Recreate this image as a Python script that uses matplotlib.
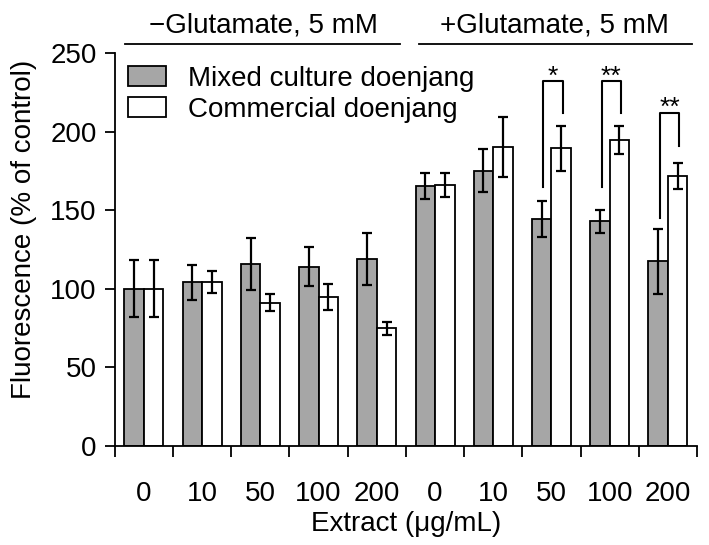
import numpy as np
import matplotlib
matplotlib.use('Agg')
from matplotlib import pyplot as plt

plt.rcParams['font.family'] = ['Liberation Sans', 'DejaVu Sans']
plt.rcParams['font.size'] = 20

# data
doses = ['0', '10', '50', '100', '200', '0', '10', '50', '100', '200']
mixed = [100, 104, 115.6, 114.1, 119, 165.4, 175.1, 144.2, 142.9, 117.5]
mixed_err = [18, 11, 16.5, 12.5, 16.3, 8.5, 13.6, 11.4, 7.4, 20.8]
commercial = [100, 104, 91.2, 95, 74.8, 166.2, 190, 189.4, 194.5, 171.8]
commercial_err = [18, 7, 5.5, 8.3, 3.9, 7.7, 19, 14.4, 8.9, 8.4]

# significance brackets: group, left leg bottom, right leg bottom, top, label
sig_groups = [7, 8, 9]
sig_left = [165, 165, 145]
sig_right = [212, 212, 191]
sig_top = [232, 232, 212]
sig_labels = ['*', '**', '**']

fig = plt.figure(figsize=(7.09, 5.45), dpi=100)
ax = fig.add_axes([0.162, 0.1817, 0.821, 0.7211])

x = np.arange(len(doses))
w = 0.335
ax.bar(x - w / 2, mixed, w, color='#a6a6a6', edgecolor='black', linewidth=1.3,
       label='Mixed culture doenjang', zorder=2)
ax.bar(x + w / 2, commercial, w, color='white', edgecolor='black', linewidth=1.3,
       label='Commercial doenjang', zorder=2)
ax.errorbar(x - w / 2, mixed, yerr=mixed_err, fmt='none', ecolor='black',
            elinewidth=1.6, capsize=3.3, capthick=1.6, zorder=3)
ax.errorbar(x + w / 2, commercial, yerr=commercial_err, fmt='none', ecolor='black',
            elinewidth=1.6, capsize=3.3, capthick=1.6, zorder=3)

# brackets
for g, yl, yr, yt, lab in zip(sig_groups, sig_left, sig_right, sig_top, sig_labels):
    xl = g - w / 2 + 0.03
    xr = g + w / 2 + 0.03
    ax.plot([xl, xl, xr, xr], [yl, yt, yt, yr], color='black', lw=1.5,
            clip_on=False, zorder=4)
    ax.text((xl + xr) / 2, yt + 3, lab, ha='center', va='center', fontsize=19)

# treatment group headers
ax.plot([-0.33, 4.40], [256, 256], color='black', lw=1.3, clip_on=False)
ax.plot([4.72, 9.41], [256, 256], color='black', lw=1.3, clip_on=False)
ax.text(2.06, 259.5, '\u2212Glutamate, 5 mM', ha='center', va='bottom')
ax.text(7.05, 259.5, '+Glutamate, 5 mM', ha='center', va='bottom')

ax.set_xlim(-0.5, 9.5)
ax.set_ylim(0, 250)
ax.set_yticks([0, 50, 100, 150, 200, 250])
ax.set_xticks(x)
ax.set_xticklabels(doses)
ax.set_xticks(np.arange(-0.5, 10, 1), minor=True)
ax.tick_params(axis='x', which='major', length=0, pad=25)
ax.tick_params(axis='x', which='minor', length=8, width=1.3, direction='out')
ax.tick_params(axis='y', length=7, width=1.3, direction='out', pad=6)

for s in ['top', 'right']:
    ax.spines[s].set_visible(False)
for s in ['left', 'bottom']:
    ax.spines[s].set_linewidth(1.3)

ax.set_ylabel('Fluorescence (% of control)')
ax.yaxis.set_label_coords(-0.134, 0.55)
ax.set_xlabel('Extract (\u03bcg/mL)', labelpad=3)

ax.legend(loc='upper left', bbox_to_anchor=(0.01, 0.985), frameon=False,
          handlelength=1.37, handleheight=0.72, handletextpad=0.79,
          labelspacing=0.18, borderaxespad=0.0, borderpad=0.25)

fig.savefig('out.png', dpi=100)
